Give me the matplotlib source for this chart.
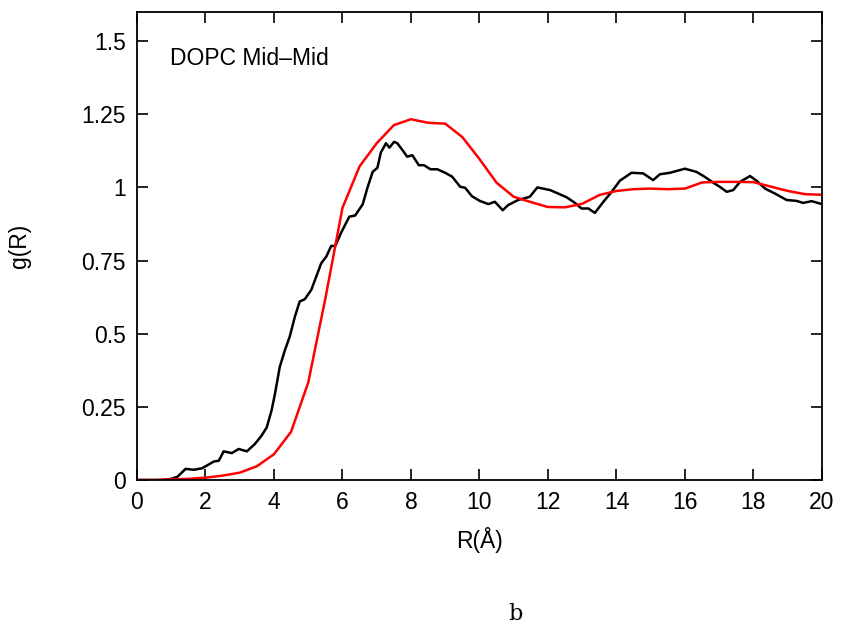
import matplotlib
matplotlib.use('Agg')
import matplotlib.pyplot as plt

plt.rcParams['font.family'] = ['Liberation Sans', 'DejaVu Sans']

# black curve: simulation g(R)
r_black = [0.0, 0.4, 0.74, 1.0, 1.18, 1.42, 1.66, 1.9, 2.05, 2.24, 2.39, 2.53, 2.77, 2.97,
           3.21, 3.45, 3.64, 3.79, 3.93, 4.03, 4.17, 4.32, 4.46, 4.61, 4.75, 4.9, 5.09,
           5.38, 5.53, 5.67, 5.79, 5.96, 6.2, 6.37, 6.59, 6.73, 6.88, 7.02, 7.12, 7.27,
           7.37, 7.51, 7.6, 7.75, 7.89, 8.04, 8.23, 8.38, 8.57, 8.77, 9.0, 9.2, 9.44,
           9.58, 9.78, 10.01, 10.26, 10.45, 10.68, 10.84, 11.13, 11.47, 11.69, 12.06,
           12.3, 12.55, 12.79, 12.98, 13.18, 13.37, 13.62, 13.86, 14.1, 14.44, 14.78,
           15.07, 15.27, 15.56, 16.0, 16.34, 16.58, 16.83, 17.02, 17.22, 17.41, 17.61,
           17.9, 18.09, 18.34, 18.63, 18.97, 19.26, 19.45, 19.7, 20.0]
g_black = [0.0, 0.0, 0.0, 0.004, 0.011, 0.038, 0.035, 0.04, 0.05, 0.063, 0.066, 0.098,
           0.092, 0.106, 0.098, 0.124, 0.152, 0.18, 0.238, 0.295, 0.387, 0.444, 0.49,
           0.558, 0.61, 0.618, 0.65, 0.741, 0.764, 0.8, 0.8, 0.845, 0.9, 0.904, 0.942,
           0.999, 1.053, 1.067, 1.119, 1.151, 1.136, 1.156, 1.151, 1.128, 1.105, 1.11,
           1.076, 1.076, 1.062, 1.062, 1.05, 1.037, 1.002, 0.999, 0.97, 0.954, 0.943,
           0.951, 0.922, 0.94, 0.957, 0.968, 1.0, 0.991, 0.979, 0.966, 0.947, 0.928,
           0.928, 0.913, 0.951, 0.985, 1.023, 1.05, 1.048, 1.025, 1.045, 1.05, 1.064,
           1.053, 1.036, 1.016, 1.002, 0.985, 0.991, 1.019, 1.039, 1.023, 0.996, 0.979,
           0.957, 0.954, 0.947, 0.953, 0.943]

# red curve: model g(R)
r_red = [0.0, 0.5, 1.0, 1.5, 2.0, 2.5, 3.0, 3.5, 4.0, 4.5, 5.0, 5.5, 6.0, 6.5, 7.0, 7.5,
         8.0, 8.5, 9.0, 9.5, 10.0, 10.5, 11.0, 11.5, 12.0, 12.5, 13.0, 13.5, 14.0, 14.5,
         15.0, 15.5, 16.0, 16.5, 17.0, 17.5, 18.0, 18.5, 19.0, 19.5, 20.0]
g_red = [0.0, 0.0, 0.002, 0.004, 0.008, 0.015, 0.025, 0.047, 0.088, 0.165, 0.333, 0.62,
         0.93, 1.072, 1.151, 1.213, 1.233, 1.221, 1.218, 1.172, 1.097, 1.016, 0.968,
         0.95, 0.933, 0.932, 0.944, 0.974, 0.988, 0.994, 0.996, 0.994, 0.996, 1.017,
         1.019, 1.019, 1.018, 1.003, 0.988, 0.977, 0.975]

yticks = [0, 0.25, 0.5, 0.75, 1, 1.25, 1.5]
ytick_labels = ['0', '0.25', '0.5', '0.75', '1', '1.25', '1.5']
xticks = list(range(0, 21, 2))

fig = plt.figure(figsize=(8.43, 6.25), dpi=100)
ax = fig.add_axes([0.1625, 0.232, 0.8125, 0.749])

ax.plot(r_black, g_black, color='black', lw=1.8)
ax.plot(r_red, g_red, color='#ff0000', lw=1.8)

ax.set_xlim(0, 20)
ax.set_ylim(0, 1.6)
ax.set_xticks(xticks)
ax.set_yticks(yticks)
ax.set_yticklabels(ytick_labels)
ax.tick_params(direction='in', length=8, width=1.2, top=True, right=True,
               labelsize=16.5, pad=8)
for spine in ax.spines.values():
    spine.set_linewidth(1.3)

ax.text(0.96, 1.44, 'DOPC Mid\u2013Mid', fontsize=16.5, ha='left', va='center')
ax.set_xlabel('R(Å)', fontsize=16.5, labelpad=9)
ax.set_ylabel('g(R)', fontsize=16.5, labelpad=36)

fig.text(0.612, 0.0, 'b', family='DejaVu Serif', fontsize=16, ha='center', va='bottom')

fig.savefig('out.png', dpi=100)
